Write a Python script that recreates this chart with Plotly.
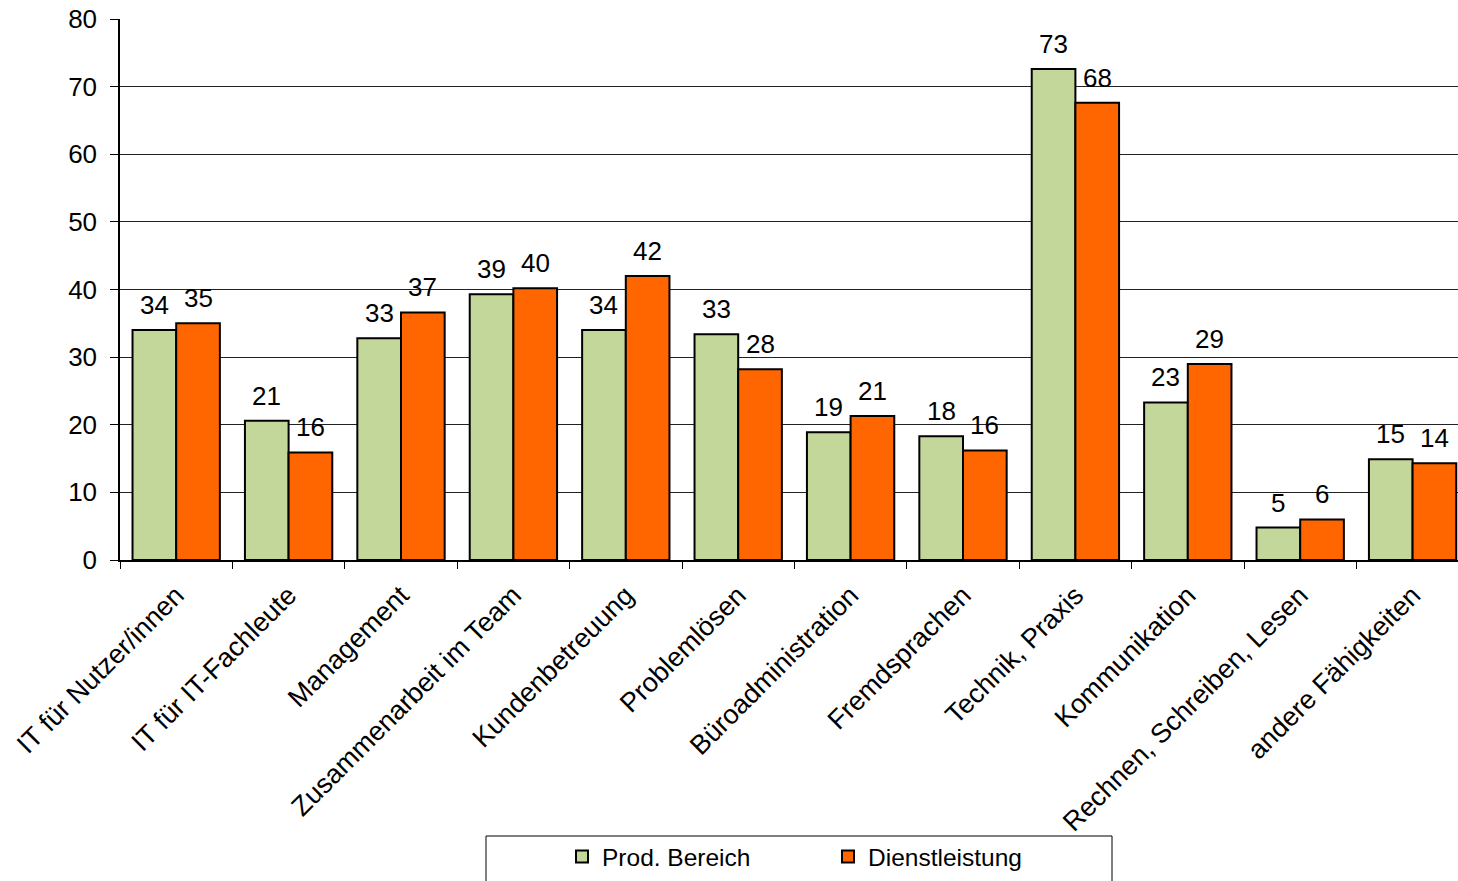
import plotly.graph_objects as go

categories = ["IT für Nutzer/innen", "IT für IT-Fachleute", "Management",
              "Zusammenarbeit im Team", "Kundenbetreuung", "Problemlösen",
              "Büroadministration", "Fremdsprachen", "Technik, Praxis",
              "Kommunikation", "Rechnen, Schreiben, Lesen", "andere Fähigkeiten"]
prod = [34.0, 20.6, 32.8, 39.3, 34.0, 33.4, 18.9, 18.3, 72.6, 23.3, 4.8, 14.9]
dienst = [35.0, 15.9, 36.6, 40.2, 42.0, 28.2, 21.3, 16.2, 67.6, 29.0, 6.0, 14.3]
series_names = ["Prod. Bereich", "Dienstleistung"]
colors = ["#C4D79B", "#FF6600"]
y_ticks = [0, 10, 20, 30, 40, 50, 60, 70, 80]

FONT = "Arial, Liberation Sans, sans-serif"
W, H = 1458, 881
L, T, B = 120, 19, 321
plot_w = W - L
plot_h = H - T - B
cat_px = 112.4
x_max = -0.5 + plot_w / cat_px

fig = go.Figure()
for name, vals, col in zip(series_names, [prod, dienst], colors):
    fig.add_trace(go.Bar(
        x=categories, y=vals, name=name,
        marker=dict(color=col, line=dict(color="black", width=2)),
    ))

bar_px = cat_px * (1 - 0.223) / 2
annotations = []
for si, vals in enumerate([prod, dienst]):
    shift = (-0.5 + si) * bar_px
    for c, v in zip(categories, vals):
        annotations.append(dict(
            x=c, y=v, xref="x", yref="y", text=f"{v:.0f}", showarrow=False,
            xshift=shift, yanchor="bottom", yshift=8,
            font=dict(family=FONT, size=26, color="black")))

def px_x(p):
    return (p - L) / plot_w

def px_y(p):
    return (H - B - p) / plot_h

fig.add_shape(type="rect", xref="paper", yref="paper",
              x0=px_x(486), x1=px_x(1112), y0=px_y(836), y1=px_y(900),
              line=dict(color="black", width=1), fillcolor="rgba(0,0,0,0)")

fig.update_layout(
    width=W, height=H,
    margin=dict(l=L, r=0, t=T, b=B, pad=0, autoexpand=False),
    paper_bgcolor="white", plot_bgcolor="white",
    barmode="group", bargap=0.223, bargroupgap=0,
    font=dict(family=FONT, size=26, color="black"),
    annotations=annotations,
    showlegend=True,
    legend=dict(orientation="h", x=px_x(562), xanchor="left",
                y=px_y(879), yanchor="bottom",
                font=dict(family=FONT, size=24.5, color="black"),
                entrywidth=221, entrywidthmode="pixels",
                bgcolor="rgba(0,0,0,0)", borderwidth=0,
                itemclick=False),
    xaxis=dict(
        type="category", range=[-0.5, x_max], automargin=False,
        tickangle=-45, tickson="boundaries", ticks="outside", ticklen=7,
        tickcolor="black", tickwidth=1,
        showgrid=False, showline=True, linecolor="black", linewidth=1.5,
        ticklabelstandoff=7, ticklabeloverflow="allow",
        tickfont=dict(family=FONT, size=27, color="black"),
    ),
    yaxis=dict(
        range=[0, 80], tickvals=y_ticks, ticks="outside", ticklen=8,
        automargin=False,
        tickcolor="black", tickwidth=1,
        showgrid=True, gridcolor="#222222", gridwidth=1,
        showline=True, linecolor="black", linewidth=1.5,
        zeroline=False, ticklabelstandoff=8, ticklabeloverflow="allow",
        tickfont=dict(family=FONT, size=26, color="black"),
    ),
)

fig.write_html("out.html",
               config={"displayModeBar": False},
               post_script="document.body.style.margin='0';document.body.style.overflow='hidden';")
